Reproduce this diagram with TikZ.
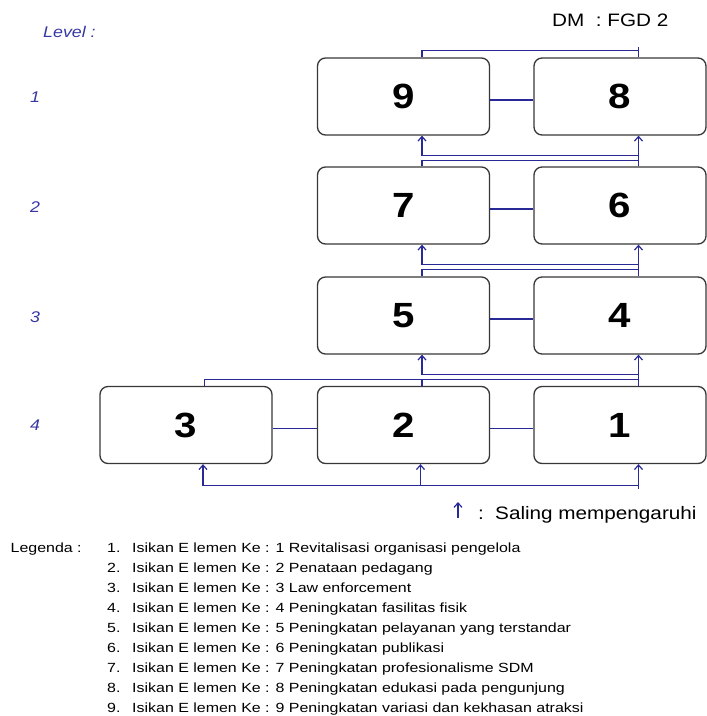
\documentclass[tikz,border=0pt]{standalone}
\usepackage{fontspec}
\setmainfont{Liberation Sans}
\newfontfamily\wide[FakeStretch=1.15]{Liberation Sans}
\newfontfamily\legwide[FakeStretch=1.2]{Liberation Sans}
\usetikzlibrary{arrows.meta,calc}
\definecolor{linkblue}{RGB}{40,40,150}
\definecolor{lvlblue}{RGB}{55,55,165}
\definecolor{boxgray}{RGB}{55,55,55}
\begin{document}
\begin{tikzpicture}[x=1pt,y=1pt,
  elem/.style={draw=boxgray,line width=1.3pt,rounded corners=8pt,minimum width=172pt,minimum height=77pt,inner sep=0pt,font=\wide\fontsize{35}{35}\bfseries\selectfont},
  link/.style={draw=linkblue,line width=1.2pt},
  upar/.style={link,-{Straight Barb[length=4.5pt,width=8pt]}},
  lvl/.style={text=lvlblue,font=\wide\fontsize{15.5}{15.5}\itshape\selectfont,anchor=base,inner sep=0pt},
  leg/.style={font=\legwide\fontsize{13.3}{13.3}\selectfont,anchor=base west,inner sep=0pt},
  big/.style={font=\wide\fontsize{18}{18}\selectfont,anchor=base west,inner sep=0pt},
]
\useasboundingbox (0,0) rectangle (707,-716);

% header texts
\node[big] (dm) at (552,-26.5) {DM\ \ : FGD 2};
\node[lvl,anchor=base west] (lev) at (43,-37) {Level :};
\node[lvl] (lv1) at (35,-102) {1};
\node[lvl] (lv2) at (35,-212.5) {2};
\node[lvl] (lv3) at (35,-322) {3};
\node[lvl] (lv4) at (35,-430) {4};

% element boxes
\node[elem] (b9) at (403.5,-96.5) {9};
\node[elem] (b8) at (620,-96.5) {8};
\node[elem] (b7) at (403.5,-205.5) {7};
\node[elem] (b6) at (620,-205.5) {6};
\node[elem] (b5) at (403.5,-315.5) {5};
\node[elem] (b4) at (620,-315.5) {4};
\node[elem] (b3) at (186,-425) {3};
\node[elem] (b2) at (403.5,-425) {2};
\node[elem] (b1) at (620,-425) {1};

% horizontal links within rows
\draw[link] ([yshift=-3.5pt]b9.east) -- ([yshift=-3.5pt]b8.west);
\draw[link] ([yshift=-3.5pt]b7.east) -- ([yshift=-3.5pt]b6.west);
\draw[link] ([yshift=-3.5pt]b5.east) -- ([yshift=-3.5pt]b4.west);
\draw[link] ([yshift=-3.5pt]b3.east) -- ([yshift=-3.5pt]b2.west);
\draw[link] ([yshift=-3.5pt]b2.east) -- ([yshift=-3.5pt]b1.west);

% level 1 mutual link
\draw[link] ([xshift=18.5pt]b9.north) |- ([xshift=18.5pt,yshift=6.5pt]b8.north) -- ([xshift=18.5pt]b8.north);
\draw[link] ([xshift=18.5pt,yshift=6.5pt]b8.north) -- ([xshift=18.5pt,yshift=10pt]b8.north);

% level 2 -> level 1
\draw[upar] ([xshift=18.5pt]b6.north) -- ([xshift=18.5pt]b8.south);
\draw[link] ([xshift=18.5pt]b7.north) |- ([xshift=18.5pt,yshift=6pt]b6.north);
\draw[upar] ([xshift=18.5pt,yshift=10.5pt]b6.north) -| ([xshift=18.5pt]b9.south);

% level 3 -> level 2
\draw[upar] ([xshift=18.5pt]b4.north) -- ([xshift=18.5pt]b6.south);
\draw[link] ([xshift=18.5pt]b5.north) |- ([xshift=18.5pt,yshift=6.5pt]b4.north);
\draw[upar] ([xshift=18.5pt,yshift=11.5pt]b4.north) -| ([xshift=18.5pt]b7.south);

% level 4 -> level 3
\draw[upar] ([xshift=18.5pt]b1.north) -- ([xshift=18.5pt]b4.south);
\draw[link] ([xshift=18.5pt]b3.north) |- ([xshift=18.5pt,yshift=6.5pt]b1.north);
\draw[link] ([xshift=18.5pt]b2.north) -- ([xshift=18.5pt,yshift=6.5pt]b2.north);
\draw[upar] ([xshift=18.5pt,yshift=11.5pt]b1.north) -| ([xshift=18.5pt]b5.south);

% level 4 mutual links (bottom)
\draw[upar] ([xshift=18.5pt,yshift=-25pt]b1.south) -- ([xshift=18.5pt]b1.south);
\draw[upar] ([xshift=18.5pt,yshift=-21.5pt]b1.south) -| ([xshift=17pt]b3.south);
\draw[upar] ([xshift=17pt,yshift=-21.5pt]b2.south) -- ([xshift=17pt]b2.south);

% key
\coordinate (ka) at (458,-518);
\coordinate (kb) at (458,-502);
\draw[upar] (ka) -- (kb);
\node[big] (kc) at (478,-519) {:};
\node[big] (kt) at (495,-519) {Saling mempengaruhi};

% legend
\node[leg] (lg) at (10.5,-552.5) {Legenda :};
\foreach \i/\t in {1/Revitalisasi organisasi pengelola,
                   2/Penataan pedagang,
                   3/Law enforcement,
                   4/Peningkatan fasilitas fisik,
                   5/Peningkatan pelayanan yang terstandar,
                   6/Peningkatan publikasi,
                   7/Peningkatan profesionalisme SDM,
                   8/Peningkatan edukasi pada pengunjung,
                   9/Peningkatan variasi dan kekhasan atraksi}{
  \node[leg] (ln\i) at (107,{-552.5-(\i-1)*20}) {\i.};
  \node[leg] (lt\i) at (132,{-552.5-(\i-1)*20}) {Isikan E lemen Ke : \i\ \t};
}
\end{tikzpicture}
\end{document}
